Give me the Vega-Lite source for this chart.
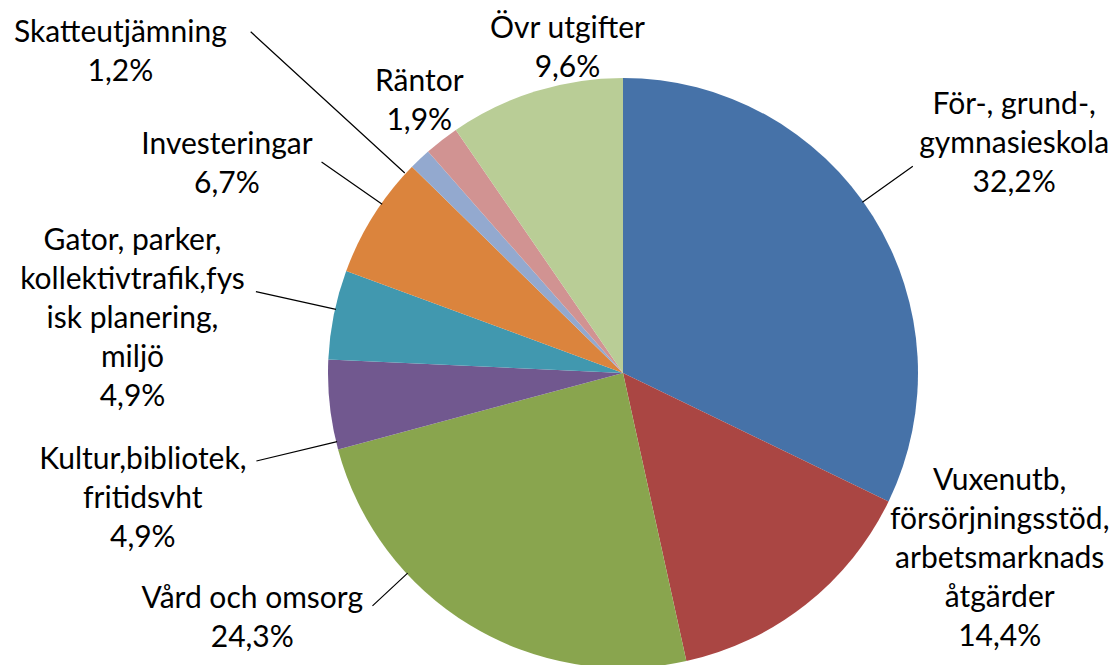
{
  "$schema": "https://vega.github.io/schema/vega-lite/v6.json",
  "autosize": {"type": "none"},
  "width": 992,
  "height": 584,
  "padding": {"left": 127, "top": 81, "right": 0, "bottom": 0},
  "background": "white",
  "view": {"stroke": null},
  "config": {"text": {"font": "Lato", "fontSize": 30, "lineHeight": 39, "color": "#000000"}},
  "data": {
    "values": [
      {"ordning": 1, "namn": "För-, grund-,\ngymnasieskola", "andel": 32.2},
      {"ordning": 2, "namn": "Vuxenutb,\nförsörjningsstöd,\narbetsmarknads\nåtgärder", "andel": 14.4},
      {"ordning": 3, "namn": "Vård och omsorg", "andel": 24.3},
      {"ordning": 4, "namn": "Kultur,bibliotek,\nfritidsvht", "andel": 4.9},
      {"ordning": 5, "namn": "Gator, parker,\nkollektivtrafik,fys\nisk planering,\nmiljö", "andel": 4.9},
      {"ordning": 6, "namn": "Investeringar", "andel": 6.7},
      {"ordning": 7, "namn": "Skatteutjämning", "andel": 1.2},
      {"ordning": 8, "namn": "Räntor", "andel": 1.9},
      {"ordning": 9, "namn": "Övr utgifter", "andel": 9.6}
    ]
  },
  "transform": [
    {"calculate": "datum.namn + '\\n' + replace(format(datum.andel, '.1f'), '.', ',') + '%'", "as": "etikett"}
  ],
  "layer": [
    {
      "encoding": {
        "theta": {"field": "andel", "type": "quantitative", "stack": true},
        "order": {"field": "ordning", "type": "quantitative", "sort": "ascending"}
      },
      "layer": [
        {
          "mark": {"type": "arc", "radius": 295, "stroke": null},
          "encoding": {
            "color": {
              "field": "namn",
              "type": "nominal",
              "sort": {"field": "ordning", "op": "min", "order": "ascending"},
              "scale": {"range": ["#4672A8", "#AA4643", "#89A54E", "#71588F", "#4198AF", "#DB843D", "#93A9CF", "#D19392", "#B9CD96"]},
              "legend": null
            }
          }
        },
        {"mark": {"type": "text", "radius": 474, "thetaOffset": -0.040, "lineBreak": "\n", "align": "center", "baseline": "middle"}, "encoding": {"text": {"condition": {"test": "datum.ordning == 1", "field": "etikett"}, "value": ""}}},
        {"mark": {"type": "text", "radius": 392, "thetaOffset": -0.622, "lineBreak": "\n", "align": "center", "baseline": "middle"}, "encoding": {"text": {"condition": {"test": "datum.ordning == 2", "field": "etikett"}, "value": ""}}},
        {"mark": {"type": "text", "radius": 434, "thetaOffset": 0.478, "lineBreak": "\n", "align": "center", "baseline": "middle"}, "encoding": {"text": {"condition": {"test": "datum.ordning == 3", "field": "etikett"}, "value": ""}}},
        {"mark": {"type": "text", "radius": 488, "thetaOffset": -0.071, "lineBreak": "\n", "align": "center", "baseline": "middle"}, "encoding": {"text": {"condition": {"test": "datum.ordning == 4", "field": "etikett"}, "value": ""}}},
        {"mark": {"type": "text", "radius": 508, "thetaOffset": 0.064, "lineBreak": "\n", "align": "center", "baseline": "middle"}, "encoding": {"text": {"condition": {"test": "datum.ordning == 5", "field": "etikett"}, "value": ""}}},
        {"mark": {"type": "text", "radius": 457, "thetaOffset": -0.041, "lineBreak": "\n", "align": "center", "baseline": "middle"}, "encoding": {"text": {"condition": {"test": "datum.ordning == 6", "field": "etikett"}, "value": ""}}},
        {"mark": {"type": "text", "radius": 607, "thetaOffset": -0.216, "lineBreak": "\n", "align": "center", "baseline": "middle"}, "encoding": {"text": {"condition": {"test": "datum.ordning == 7", "field": "etikett"}, "value": ""}}},
        {"mark": {"type": "text", "radius": 355, "thetaOffset": 0.051, "lineBreak": "\n", "align": "center", "baseline": "middle"}, "encoding": {"text": {"condition": {"test": "datum.ordning == 8", "field": "etikett"}, "value": ""}}},
        {"mark": {"type": "text", "radius": 348, "thetaOffset": 0.141, "lineBreak": "\n", "align": "center", "baseline": "middle"}, "encoding": {"text": {"condition": {"test": "datum.ordning == 9", "field": "etikett"}, "value": ""}}}
      ]
    },
    {"transform": [{"filter": "datum.ordning == 1"}], "mark": {"type": "arc", "theta": 0.9512, "theta2": 0.9512, "radius": 356, "radius2": 294, "fill": null, "stroke": "#000000", "strokeWidth": 1.2}, "encoding": {}},
    {"transform": [{"filter": "datum.ordning == 3"}], "mark": {"type": "arc", "theta": 3.9636, "theta2": 3.9636, "radius": 342, "radius2": 294, "fill": null, "stroke": "#000000", "strokeWidth": 1.2}, "encoding": {}},
    {"transform": [{"filter": "datum.ordning == 4"}], "mark": {"type": "arc", "theta": 4.4768, "theta2": 4.4768, "radius": 377, "radius2": 294, "fill": null, "stroke": "#000000", "strokeWidth": 1.2}, "encoding": {}},
    {"transform": [{"filter": "datum.ordning == 5"}], "mark": {"type": "arc", "theta": 4.9306, "theta2": 4.9306, "radius": 376, "radius2": 294, "fill": null, "stroke": "#000000", "strokeWidth": 1.2}, "encoding": {}},
    {"transform": [{"filter": "datum.ordning == 6"}], "mark": {"type": "arc", "theta": 5.3233, "theta2": 5.3233, "radius": 368, "radius2": 294, "fill": null, "stroke": "#000000", "strokeWidth": 1.2}, "encoding": {}},
    {"transform": [{"filter": "datum.ordning == 7"}], "mark": {"type": "arc", "theta": 5.4542, "theta2": 5.4542, "radius": 505, "radius2": 296, "fill": null, "stroke": "#000000", "strokeWidth": 1.2}, "encoding": {}}
  ]
}
